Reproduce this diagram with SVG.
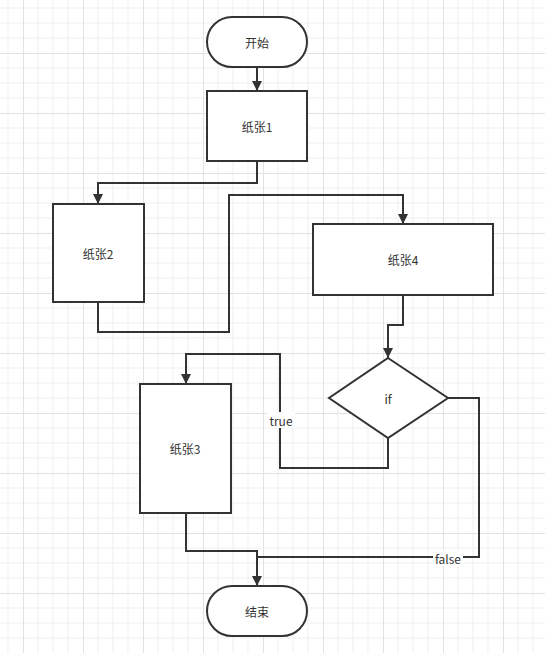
<svg xmlns="http://www.w3.org/2000/svg" width="545" height="653" viewBox="0 0 545 653">
<style>
.n{fill:#fff;stroke:#333;stroke-width:2}
.t{font-family:"Noto Sans CJK SC","Microsoft YaHei",sans-serif;font-size:12px;fill:#333;text-anchor:middle;dominant-baseline:central}
.e{fill:none;stroke:#333;stroke-width:2}
.lb{fill:#fff}
</style>
<defs>
<pattern id="g" x="23" y="53" width="60" height="60" patternUnits="userSpaceOnUse">
<path d="M15 0V60M30 0V60M45 0V60M0 15H60M0 30H60M0 45H60" stroke="#efefef" stroke-width="1" fill="none"/>
<path d="M0.5 0V60M0 0.5H60" stroke="#e2e2e2" stroke-width="1" fill="none"/>
</pattern>
<marker id="a" markerWidth="10" markerHeight="12" refX="10" refY="5" orient="auto" markerUnits="userSpaceOnUse">
<path d="M0 0L10 5L0 10z" fill="#333"/>
</marker>
</defs>
<rect width="545" height="653" fill="#fff"/>
<rect width="545" height="653" fill="url(#g)"/>
<g id="connectors">
<path class="e" d="M257 67V91" marker-end="url(#a)"/>
<path class="e" d="M257 161V183H98V204" marker-end="url(#a)"/>
<path class="e" d="M98 302V332H229V195H403V224" marker-end="url(#a)"/>
<path class="e" d="M403 295V325H388V358" marker-end="url(#a)"/>
<path class="e" d="M388 438V468H280V354H186V384" marker-end="url(#a)"/>
<path class="e" d="M186 513V551H257V586" marker-end="url(#a)"/>
<path class="e" d="M448 398H479V557H257"/>
<rect class="lb" x="267" y="412" width="28" height="16"/>
<text class="t" x="281" y="420">true</text>
<rect class="lb" x="433" y="550" width="30" height="16"/>
<text class="t" x="448" y="558">false</text>
</g>
<g id="start"><rect class="n" x="207" y="17" width="100" height="50" rx="25" ry="25"/><text class="t" x="257" y="42">开始</text></g>
<g id="paper1"><rect class="n" x="207" y="91" width="100" height="70"/><text class="t" x="257" y="126">纸张1</text></g>
<g id="paper2"><rect class="n" x="53" y="204" width="91" height="98"/><text class="t" x="98" y="253">纸张2</text></g>
<g id="paper4"><rect class="n" x="313" y="224" width="180" height="71"/><text class="t" x="403" y="259">纸张4</text></g>
<g id="if"><path class="n" d="M388 358L448 398L388 438L329 398z"/><text class="t" x="388" y="398">if</text></g>
<g id="paper3"><rect class="n" x="140" y="384" width="91" height="129"/><text class="t" x="185" y="448">纸张3</text></g>
<g id="end"><rect class="n" x="207" y="586" width="100" height="50" rx="25" ry="25"/><text class="t" x="257" y="611">结束</text></g>
</svg>
